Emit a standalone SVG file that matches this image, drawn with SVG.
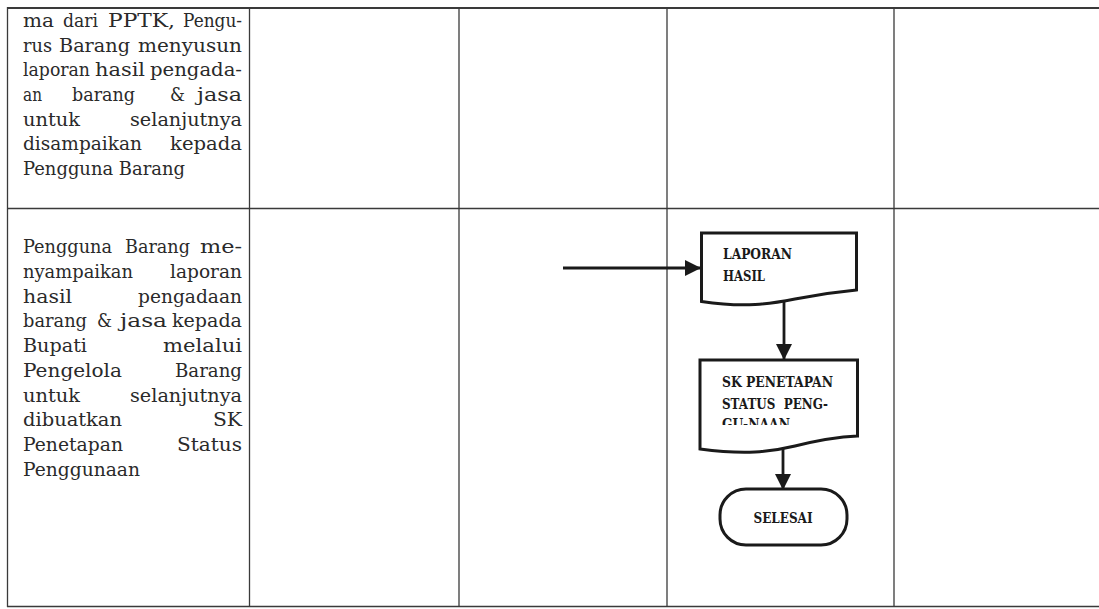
<svg xmlns="http://www.w3.org/2000/svg" width="1099" height="609" viewBox="0 0 1099 609">
<style>
.grid{stroke:#3a3a3a;stroke-width:1.3;fill:none}
.body{font-family:"DejaVu Serif","Liberation Serif",serif;font-size:19px;fill:#2a2a2a}
.shape{fill:#fff;stroke:#1a1a1a;stroke-width:3}
.lbl{font-family:"DejaVu Serif","Liberation Serif",serif;font-weight:bold;font-size:14.5px;fill:#1a1a1a}
.conn{stroke:#1a1a1a;stroke-width:2.8;fill:none}
</style>
<defs>
<marker id="ah" markerWidth="17" markerHeight="17" refX="15" refY="8.5" orient="auto" markerUnits="userSpaceOnUse">
<path d="M0,0.5 L16,8.5 L0,16.5 Z" fill="#1a1a1a"/>
</marker>
<clipPath id="skclip"><rect x="700" y="360" width="158" height="65"/></clipPath>
</defs>
<rect width="1099" height="609" fill="#fff"/>
<g id="table">
<line class="grid" x1="7" y1="8" x2="1099" y2="8" style="stroke-width:2"/>
<line class="grid" x1="7" y1="208.5" x2="1099" y2="208.5"/>
<line class="grid" x1="7" y1="606.5" x2="1099" y2="606.5"/>
<line class="grid" x1="7.5" y1="7" x2="7.5" y2="607"/>
<line class="grid" x1="249.5" y1="7" x2="249.5" y2="607"/>
<line class="grid" x1="459" y1="7" x2="459" y2="607"/>
<line class="grid" x1="667" y1="7" x2="667" y2="607"/>
<line class="grid" x1="894" y1="7" x2="894" y2="607"/>
</g>
<g id="text-row1" class="body">
<text x="23" y="26.8" textLength="31" lengthAdjust="spacingAndGlyphs">ma</text><text x="63" y="26.8" textLength="35" lengthAdjust="spacingAndGlyphs">dari</text><text x="108" y="26.8" textLength="67" lengthAdjust="spacingAndGlyphs">PPTK,</text><text x="183" y="26.8" textLength="59" lengthAdjust="spacingAndGlyphs">Pengu-</text>
<text x="23" y="51.5" textLength="29" lengthAdjust="spacingAndGlyphs">rus</text><text x="59" y="51.5" textLength="71" lengthAdjust="spacingAndGlyphs">Barang</text><text x="138" y="51.5" textLength="104" lengthAdjust="spacingAndGlyphs">menyusun</text>
<text x="23" y="76.2" textLength="67" lengthAdjust="spacingAndGlyphs">laporan</text><text x="95" y="76.2" textLength="50" lengthAdjust="spacingAndGlyphs">hasil</text><text x="150" y="76.2" textLength="92" lengthAdjust="spacingAndGlyphs">pengada-</text>
<text x="23" y="100.9" textLength="19" lengthAdjust="spacingAndGlyphs">an</text><text x="72" y="100.9" textLength="63" lengthAdjust="spacingAndGlyphs">barang</text><text x="170" y="100.9" textLength="15" lengthAdjust="spacingAndGlyphs">&amp;</text><text x="197" y="100.9" textLength="45" lengthAdjust="spacingAndGlyphs">jasa</text>
<text x="23" y="125.6" textLength="57" lengthAdjust="spacingAndGlyphs">untuk</text><text x="130" y="125.6" textLength="112" lengthAdjust="spacingAndGlyphs">selanjutnya</text>
<text x="23" y="150.3" textLength="119" lengthAdjust="spacingAndGlyphs">disampaikan</text><text x="170" y="150.3" textLength="72" lengthAdjust="spacingAndGlyphs">kepada</text>
<text x="23" y="175" textLength="162" lengthAdjust="spacingAndGlyphs">Pengguna Barang</text>
</g>
<g id="text-row2" class="body">
<text x="23" y="253.3" textLength="89" lengthAdjust="spacingAndGlyphs">Pengguna</text><text x="125" y="253.3" textLength="65" lengthAdjust="spacingAndGlyphs">Barang</text><text x="200" y="253.3" textLength="42" lengthAdjust="spacingAndGlyphs">me-</text>
<text x="23" y="278" textLength="110" lengthAdjust="spacingAndGlyphs">nyampaikan</text><text x="170" y="278" textLength="72" lengthAdjust="spacingAndGlyphs">laporan</text>
<text x="23" y="302.7" textLength="49" lengthAdjust="spacingAndGlyphs">hasil</text><text x="138" y="302.7" textLength="104" lengthAdjust="spacingAndGlyphs">pengadaan</text>
<text x="23" y="327.4" textLength="64" lengthAdjust="spacingAndGlyphs">barang</text><text x="97" y="327.4" textLength="15" lengthAdjust="spacingAndGlyphs">&amp;</text><text x="120" y="327.4" textLength="47" lengthAdjust="spacingAndGlyphs">jasa</text><text x="172" y="327.4" textLength="70" lengthAdjust="spacingAndGlyphs">kepada</text>
<text x="23" y="352.1" textLength="64" lengthAdjust="spacingAndGlyphs">Bupati</text><text x="163" y="352.1" textLength="79" lengthAdjust="spacingAndGlyphs">melalui</text>
<text x="23" y="376.8" textLength="99" lengthAdjust="spacingAndGlyphs">Pengelola</text><text x="175" y="376.8" textLength="67" lengthAdjust="spacingAndGlyphs">Barang</text>
<text x="23" y="401.5" textLength="57" lengthAdjust="spacingAndGlyphs">untuk</text><text x="130" y="401.5" textLength="112" lengthAdjust="spacingAndGlyphs">selanjutnya</text>
<text x="23" y="426.2" textLength="99" lengthAdjust="spacingAndGlyphs">dibuatkan</text><text x="213" y="426.2" textLength="29" lengthAdjust="spacingAndGlyphs">SK</text>
<text x="23" y="450.9" textLength="100" lengthAdjust="spacingAndGlyphs">Penetapan</text><text x="177" y="450.9" textLength="65" lengthAdjust="spacingAndGlyphs">Status</text>
<text x="23" y="475.6" textLength="117" lengthAdjust="spacingAndGlyphs">Penggunaan</text>
</g>
<g id="connectors">
<line class="conn" x1="563" y1="268" x2="700" y2="268" marker-end="url(#ah)"/>
<line class="conn" x1="784" y1="302" x2="784" y2="359" marker-end="url(#ah)"/>
<line class="conn" x1="783" y1="449" x2="783" y2="489" marker-end="url(#ah)"/>
</g>
<g id="laporan-hasil">
<path class="shape" d="M701.5,233 H856.5 V290 C835,292 815,295 795,299 C770,304 745,308 701.5,301.5 Z"/>
<text class="lbl" x="723" y="259.3" textLength="69" lengthAdjust="spacingAndGlyphs">LAPORAN</text>
<text class="lbl" x="723" y="280.5" textLength="42" lengthAdjust="spacingAndGlyphs">HASIL</text>
</g>
<g id="sk-penetapan">
<path class="shape" d="M700,360 H857.5 V436 C835,437 815,441 795,446 C770,452 745,455 700,449 Z"/>
<text class="lbl" x="722" y="387" textLength="111" lengthAdjust="spacingAndGlyphs">SK PENETAPAN</text>
<text class="lbl" x="722" y="408.5" textLength="106" lengthAdjust="spacingAndGlyphs" xml:space="preserve">STATUS  PENG-</text>
<text class="lbl" x="722" y="428.5" textLength="68" lengthAdjust="spacingAndGlyphs" clip-path="url(#skclip)">GU-NAAN</text>
</g>
<g id="selesai">
<rect class="shape" x="720" y="489" width="127" height="56" rx="26" ry="26"/>
<text class="lbl" x="753.5" y="523" textLength="59" lengthAdjust="spacingAndGlyphs">SELESAI</text>
</g>
</svg>
